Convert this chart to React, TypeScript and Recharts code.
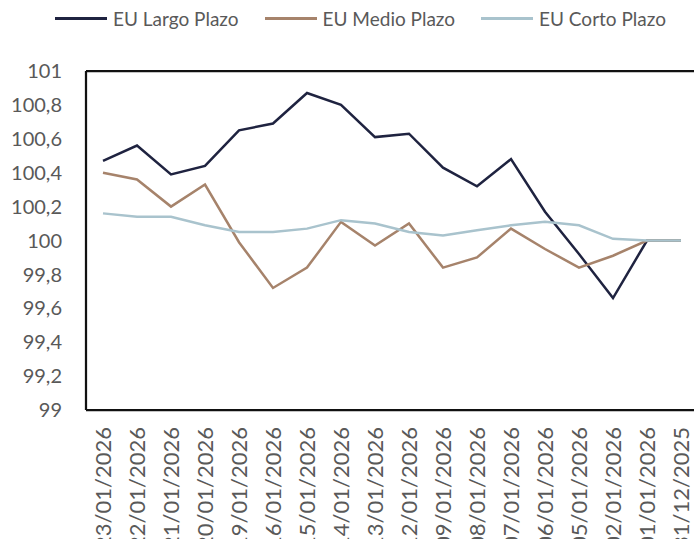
import { LineChart, Line, XAxis, YAxis, ReferenceLine } from "recharts";

const dates = [
  "23/01/2026", "22/01/2026", "21/01/2026", "20/01/2026", "19/01/2026",
  "16/01/2026", "15/01/2026", "14/01/2026", "13/01/2026", "12/01/2026",
  "09/01/2026", "08/01/2026", "07/01/2026", "06/01/2026", "05/01/2026",
  "02/01/2026", "01/01/2026", "31/12/2025",
];

const largoPlazo = [
  100.47, 100.56, 100.39, 100.44, 100.65, 100.69, 100.87, 100.8, 100.61,
  100.63, 100.43, 100.32, 100.48, 100.17, 99.92, 99.66, 100, 100,
];
const medioPlazo = [
  100.4, 100.36, 100.2, 100.33, 99.99, 99.72, 99.84, 100.11, 99.97, 100.1,
  99.84, 99.9, 100.07, 99.95, 99.84, 99.91, 100, 100,
];
const cortoPlazo = [
  100.16, 100.14, 100.14, 100.09, 100.05, 100.05, 100.07, 100.12, 100.1,
  100.05, 100.03, 100.06, 100.09, 100.11, 100.09, 100.01, 100, 100,
];

const yTicks = [99, 99.2, 99.4, 99.6, 99.8, 100, 100.2, 100.4, 100.6, 100.8, 101];

const series = [
  { key: "largo", name: "EU Largo Plazo", color: "#1f2340" },
  { key: "medio", name: "EU Medio Plazo", color: "#a6836b" },
  { key: "corto", name: "EU Corto Plazo", color: "#a9c3cd" },
];

const data = dates.map((date, i) => ({
  date,
  largo: largoPlazo[i],
  medio: medioPlazo[i],
  corto: cortoPlazo[i],
}));

const FONT = "Lato, 'Open Sans', sans-serif";
const TEXT = "#595959";

const fmt = (v: number) => String(Math.round(v * 10) / 10).replace(".", ",");

// rotated date labels, reading bottom to top like the Excel original
function DateTick({ x, y, payload }: any) {
  const ty = y + 9;
  return (
    <text
      x={x}
      y={ty}
      dy="0.36em"
      transform={`rotate(-90, ${x}, ${ty})`}
      textAnchor="end"
      fill={TEXT}
      fontSize={22}
      fontFamily={FONT}
    >
      {payload.value}
    </text>
  );
}

export default function App() {
  return (
    <div
      style={{
        position: "absolute",
        left: 0,
        top: 0,
        width: 694,
        height: 539,
        overflow: "hidden",
        background: "#fff",
        fontFamily: FONT,
      }}
    >
      <div
        style={{
          position: "absolute",
          left: 55,
          top: 7,
          display: "flex",
          alignItems: "center",
          fontSize: 19,
          color: TEXT,
          whiteSpace: "nowrap",
        }}
      >
        {series.map((s, i) => (
          <div
            key={s.key}
            style={{ display: "flex", alignItems: "center", marginLeft: i === 0 ? 0 : 26 }}
          >
            <span
              style={{ display: "inline-block", width: 52, height: 3, background: s.color, marginRight: 6 }}
            />
            <span>{s.name}</span>
          </div>
        ))}
      </div>
      <LineChart
        width={700}
        height={539}
        data={data}
        margin={{ top: 71, right: 2, left: 0, bottom: 0 }}
      >
        <XAxis
          dataKey="date"
          interval={0}
          height={129}
          padding={{ left: 17, right: 17 }}
          tickLine={false}
          axisLine={{ stroke: "#111", strokeWidth: 2.25 }}
          tick={<DateTick />}
        />
        <YAxis
          width={86}
          domain={[99, 101]}
          ticks={yTicks}
          interval={0}
          tickLine={false}
          tickSize={0}
          tickMargin={24}
          axisLine={{ stroke: "#111", strokeWidth: 2.25 }}
          tickFormatter={fmt}
          tick={{ fontSize: 20, fill: TEXT, fontFamily: FONT }}
        />
        <ReferenceLine y={101} stroke="#111" strokeWidth={2.25} />
        {series.map((s) => (
          <Line
            key={s.key}
            type="linear"
            dataKey={s.key}
            name={s.name}
            stroke={s.color}
            strokeWidth={2.5}
            dot={false}
            isAnimationActive={false}
          />
        ))}
      </LineChart>
    </div>
  );
}
